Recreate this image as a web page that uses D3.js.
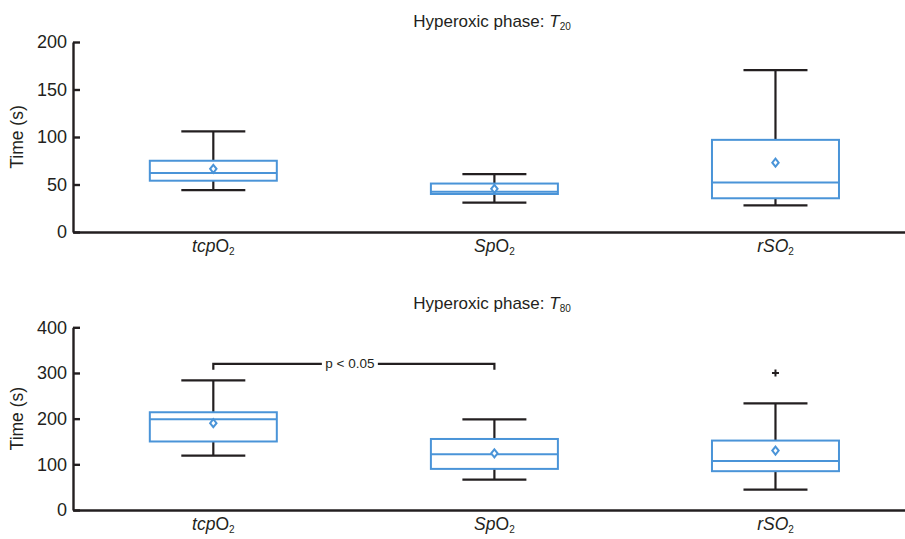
<!DOCTYPE html>
<html>
<head>
<meta charset="utf-8">
<script src="https://cdn.jsdelivr.net/npm/d3@7"></script>
<style>
  body { margin: 0; background: #fff; }
  svg { display: block; font-family: "Liberation Sans", Arial, sans-serif; }
</style>
</head>
<body>
<div id="container"></div>
<script>
// data
const categories = ["tcpO2", "SpO2", "rSO2"];

// T20 panel: [whiskerLow, q1, median, q3, whiskerHigh], mean
const t20Stats = [
  [44, 54, 62, 75, 106],
  [31, 40, 42.5, 51, 61],
  [28, 35.5, 52, 97, 170.5]
];
const t20Means = [66.5, 45.5, 73];
const t20Outliers = [[], [], []];

// T80 panel
const t80Stats = [
  [119, 150, 198.5, 214, 284],
  [66.5, 90, 122, 155.5, 198.5],
  [44.5, 85, 107.5, 152, 233.5]
];
const t80Means = [190, 124, 130];
const t80Outliers = [[], [], [300]];

const t20Ticks = [0, 50, 100, 150, 200];
const t80Ticks = [0, 100, 200, 300, 400];

// significance bracket (T80 panel)
const sigPair = ["tcpO2", "SpO2"];
const sigLevel = 320;
const sigLabel = "p < 0.05";

const width = 905, height = 539;
const blue = "#4a94d8", ink = "#231f20";

const svg = d3.select("#container").append("svg")
  .attr("width", width)
  .attr("height", height);

const x = d3.scalePoint()
  .domain(categories)
  .range([73, 905])
  .padding(0.48)
  .align(0.52);

const boxW = 127, capW = 64;

// label pieces for category names: [text, italic, subscript]
const catLabels = {
  tcpO2: [["tcp", true, false], ["O", false, false], ["2", false, true]],
  SpO2: [["Sp", true, false], ["O", false, false], ["2", false, true]],
  rSO2: [["rSO", true, false], ["2", false, true]]
};

function panel(opts) {
  const y = d3.scaleLinear().domain(opts.domain).range(opts.yRange);
  const g = svg.append("g");

  // title
  const title = g.append("text")
    .attr("x", 492)
    .attr("y", opts.titleY)
    .attr("text-anchor", "middle")
    .attr("font-size", 17)
    .attr("fill", ink);
  title.append("tspan").text("Hyperoxic phase: ");
  title.append("tspan").attr("font-style", "italic").text("T");
  title.append("tspan").attr("font-size", 10).attr("dy", 3).text(opts.sub);

  // y axis
  const yAxis = d3.axisLeft(y)
    .tickValues(opts.ticks)
    .tickSizeInner(-7)
    .tickSizeOuter(0)
    .tickPadding(6);
  const ya = g.append("g")
    .attr("transform", `translate(${x.range()[0]},0)`)
    .call(yAxis);
  ya.select(".domain").attr("stroke", ink).attr("stroke-width", 2.4);
  ya.selectAll(".tick line").attr("stroke", ink).attr("stroke-width", 2.4);
  ya.selectAll(".tick text")
    .attr("font-size", 18)
    .attr("fill", ink)
    .attr("font-family", "Liberation Sans, Arial, sans-serif");

  g.append("text")
    .attr("transform", `translate(23,${(opts.yRange[0] + opts.yRange[1]) / 2}) rotate(-90)`)
    .attr("text-anchor", "middle")
    .attr("font-size", 17.5)
    .attr("fill", ink)
    .text("Time (s)");

  // x axis line
  const xAxis = d3.axisBottom(x).tickSize(0).tickFormat("");
  const xa = g.append("g")
    .attr("transform", `translate(0,${y(0)})`)
    .call(xAxis);
  xa.select(".domain").attr("stroke", ink).attr("stroke-width", 2.4);

  categories.forEach(c => {
    const t = g.append("text")
      .attr("x", x(c))
      .attr("y", y(0) + 20)
      .attr("text-anchor", "middle")
      .attr("font-size", 17.5)
      .attr("fill", ink);
    catLabels[c].forEach(p => {
      const s = t.append("tspan").text(p[0]);
      if (p[1]) s.attr("font-style", "italic");
      if (p[2]) s.attr("font-size", 10).attr("dy", 3);
    });
  });

  const rows = categories.map((c, i) => ({
    cat: c, s: opts.stats[i], mean: opts.means[i], out: opts.outliers[i]
  }));

  const box = g.selectAll("g.box")
    .data(rows)
    .join("g")
    .attr("class", "box");

  // whiskers
  box.append("line")
    .attr("x1", d => x(d.cat)).attr("x2", d => x(d.cat))
    .attr("y1", d => y(d.s[0])).attr("y2", d => y(d.s[1]))
    .attr("stroke", ink).attr("stroke-width", 2.2);
  box.append("line")
    .attr("x1", d => x(d.cat)).attr("x2", d => x(d.cat))
    .attr("y1", d => y(d.s[3])).attr("y2", d => y(d.s[4]))
    .attr("stroke", ink).attr("stroke-width", 2.2);
  [0, 4].forEach(k => {
    box.append("line")
      .attr("x1", d => x(d.cat) - capW / 2).attr("x2", d => x(d.cat) + capW / 2)
      .attr("y1", d => y(d.s[k])).attr("y2", d => y(d.s[k]))
      .attr("stroke", ink).attr("stroke-width", 2.2);
  });

  // box + median
  box.append("rect")
    .attr("x", d => x(d.cat) - boxW / 2)
    .attr("width", boxW)
    .attr("y", d => y(d.s[3]))
    .attr("height", d => y(d.s[1]) - y(d.s[3]))
    .attr("fill", "#fff")
    .attr("stroke", blue).attr("stroke-width", 2);
  box.append("line")
    .attr("x1", d => x(d.cat) - boxW / 2).attr("x2", d => x(d.cat) + boxW / 2)
    .attr("y1", d => y(d.s[2])).attr("y2", d => y(d.s[2]))
    .attr("stroke", blue).attr("stroke-width", 2);

  // mean diamond
  box.append("path")
    .attr("d", d => {
      const cx = x(d.cat), cy = y(d.mean);
      return `M${cx},${cy - 4}L${cx + 3.2},${cy}L${cx},${cy + 4}L${cx - 3.2},${cy}Z`;
    })
    .attr("fill", "#fff")
    .attr("stroke", blue).attr("stroke-width", 2);

  // outliers
  box.selectAll("path.out")
    .data(d => d.out.map(v => ({cat: d.cat, v})))
    .join("path")
    .attr("class", "out")
    .attr("d", d => {
      const cx = x(d.cat), cy = y(d.v);
      return `M${cx - 3.5},${cy}H${cx + 3.5}M${cx},${cy - 3.5}V${cy + 3.5}`;
    })
    .attr("stroke", ink).attr("stroke-width", 2);

  return y;
}

panel({
  domain: [0, 200], yRange: [232, 42], ticks: t20Ticks,
  stats: t20Stats, means: t20Means, outliers: t20Outliers,
  titleY: 27, sub: "20"
});

const y2 = panel({
  domain: [0, 400], yRange: [510, 327.3], ticks: t80Ticks,
  stats: t80Stats, means: t80Means, outliers: t80Outliers,
  titleY: 309, sub: "80"
});

// significance bracket
const x1 = x(sigPair[0]), x2 = x(sigPair[1]), by = y2(sigLevel);
const mid = (x1 + x2) / 2 - 4;
const gap = 28;
svg.append("path")
  .attr("d", `M${x1},${by + 6}V${by}H${mid - gap}M${mid + gap},${by}H${x2}V${by + 6}`)
  .attr("fill", "none")
  .attr("stroke", ink).attr("stroke-width", 2.2);
svg.append("text")
  .attr("x", mid)
  .attr("y", by + 4.5)
  .attr("text-anchor", "middle")
  .attr("font-size", 13.5)
  .attr("fill", ink)
  .text(sigLabel);
</script>
</body>
</html>
